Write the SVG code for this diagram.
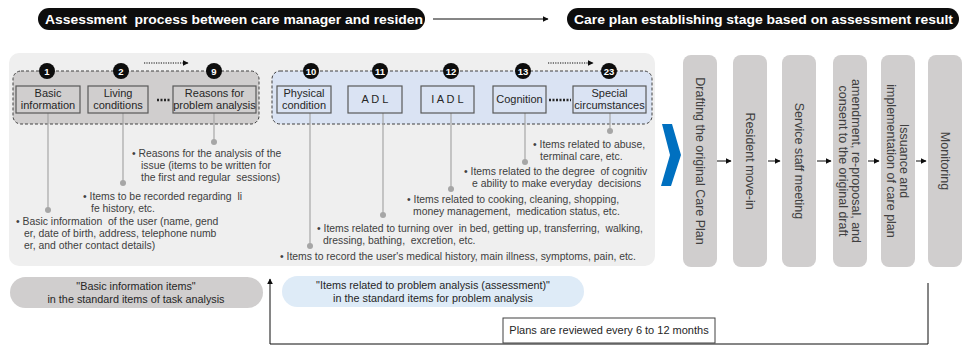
<svg xmlns="http://www.w3.org/2000/svg" width="963" height="347" viewBox="0 0 963 347">
  <style>
    text { font-family: "Liberation Sans", Arial, sans-serif; }
    .hdr { fill: #0d0d0d; }
    .hdr-t { fill: #ffffff; font-size: 13px; font-weight: bold; white-space: pre; }
    .panel { fill: #efefef; }
    .grp-g { fill: #d0cece; stroke: #404040; stroke-width: 1; stroke-dasharray: 3 2; }
    .grp-b { fill: #dae3f3; stroke: #404040; stroke-width: 1; stroke-dasharray: 3 2; }
    .box { fill: none; stroke: #595959; stroke-width: 1.2; }
    .box-t { font-size: 11px; fill: #262626; text-anchor: middle; }
    .num { fill: #0d0d0d; }
    .num-t { fill: #ffffff; font-size: 9.5px; font-weight: bold; text-anchor: middle; }
    .lead { stroke: #a6a6a6; stroke-width: 1.2; fill: none; }
    .dot { fill: #a6a6a6; }
    .desc { font-size: 10.4px; fill: #404040; white-space: pre; }
    .ellip { stroke: #262626; stroke-width: 2.5; stroke-dasharray: 2 1.5; }
    .dotted { stroke: #0d0d0d; stroke-width: 1.2; stroke-dasharray: 1.2 1.2; fill: none; }
    .col { fill: #d0cece; }
    .col-t { font-size: 12.5px; fill: #404040; text-anchor: middle; }
    .link { stroke: #0d0d0d; stroke-width: 1; fill: none; }
    .pill-g { fill: #d0cece; }
    .pill-b { fill: #deebf7; }
    .pill-t { font-size: 10.8px; fill: #262626; text-anchor: middle; }
    .note { fill: #ffffff; stroke: #404040; stroke-width: 1; }
    .note-t { font-size: 11px; fill: #262626; text-anchor: middle; }
  </style>
  <defs>
    <marker id="arr" viewBox="0 0 10 10" refX="9" refY="5" markerWidth="6" markerHeight="6" orient="auto" markerUnits="userSpaceOnUse">
      <path d="M0,0 L10,5 L0,10 z" fill="#0d0d0d"/>
    </marker>
  </defs>

  <!-- stage headers -->
  <g id="header-assessment">
    <rect class="hdr" x="38" y="8" width="387" height="22" rx="11"/>
    <text class="hdr-t" x="45" y="24" textLength="378" lengthAdjust="spacingAndGlyphs">Assessment  process between care manager and residen</text>
  </g>
  <g id="header-careplan">
    <rect class="hdr" x="567" y="8" width="392" height="22" rx="11"/>
    <text class="hdr-t" x="574" y="24" textLength="379" lengthAdjust="spacingAndGlyphs">Care plan establishing stage based on assessment result</text>
  </g>

  <!-- assessment panel -->
  <rect class="panel" x="9" y="53" width="646" height="213" rx="10"/>

  <g id="group-basic">
    <rect class="grp-g" x="13" y="71" width="246" height="53" rx="8"/>
  </g>
  <g id="group-problem">
    <rect class="grp-b" x="272" y="71" width="380" height="53" rx="8"/>
  </g>

  <g id="connectors">
    <!-- header flow -->
    <line class="link" x1="433" y1="19" x2="548" y2="19" marker-end="url(#arr)"/>
    <!-- sequence hints -->
    <line class="dotted" x1="144" y1="63" x2="188" y2="63" marker-end="url(#arr)"/>
    <line class="dotted" x1="548" y1="63" x2="593" y2="63" marker-end="url(#arr)"/>
    <!-- item leaders -->
    <line class="lead" x1="48" y1="113" x2="48" y2="210"/>
    <line class="lead" x1="123" y1="113" x2="123" y2="183"/>
    <line class="lead" x1="214" y1="113" x2="214" y2="142"/>
    <line class="lead" x1="310" y1="113" x2="310" y2="246"/>
    <line class="lead" x1="383" y1="113" x2="383" y2="215"/>
    <line class="lead" x1="451" y1="113" x2="451" y2="189"/>
    <line class="lead" x1="525" y1="113" x2="525" y2="162"/>
    <line class="lead" x1="610" y1="113" x2="610" y2="131"/>
    <circle class="dot" cx="48" cy="210" r="3"/>
    <circle class="dot" cx="123" cy="183" r="3"/>
    <circle class="dot" cx="214" cy="142" r="3"/>
    <circle class="dot" cx="310" cy="246" r="3"/>
    <circle class="dot" cx="383" cy="215" r="3"/>
    <circle class="dot" cx="451" cy="189" r="3"/>
    <circle class="dot" cx="525" cy="162" r="3"/>
    <circle class="dot" cx="610" cy="131" r="3"/>
    <!-- care plan steps -->
    <line class="link" x1="717" y1="161" x2="731" y2="161" marker-end="url(#arr)"/>
    <line class="link" x1="768" y1="161" x2="780" y2="161" marker-end="url(#arr)"/>
    <line class="link" x1="817" y1="161" x2="831" y2="161" marker-end="url(#arr)"/>
    <line class="link" x1="868" y1="161" x2="879" y2="161" marker-end="url(#arr)"/>
    <line class="link" x1="916" y1="161" x2="926" y2="161" marker-end="url(#arr)"/>
    <!-- review loop -->
    <path class="link" d="M928,283 V344 H270 V279" marker-end="url(#arr)"/>
  </g>

  <!-- basic information items -->
  <g id="item-1">
    <circle class="num" cx="47" cy="71" r="8"/>
    <text class="num-t" x="47" y="74.5">1</text>
    <rect class="box" x="16" y="86" width="64" height="27"/>
    <text class="box-t" x="48" y="97">Basic</text>
    <text class="box-t" x="48" y="109">information</text>
    <text class="desc" x="16" y="225">• Basic information  of the user (name, gend</text>
    <text class="desc" x="24" y="237">er, date of birth, address, telephone numb</text>
    <text class="desc" x="24" y="249">er, and other contact details)</text>
  </g>
  <g id="item-2">
    <circle class="num" cx="121" cy="71" r="8"/>
    <text class="num-t" x="121" y="74.5">2</text>
    <rect class="box" x="88" y="86" width="60" height="27"/>
    <text class="box-t" x="118" y="97">Living</text>
    <text class="box-t" x="118" y="109">conditions</text>
    <line class="ellip" x1="157" y1="100" x2="171" y2="100"/>
    <text class="desc" x="83" y="200">• Items to be recorded regarding  li</text>
    <text class="desc" x="91" y="212">fe history, etc.</text>
  </g>
  <g id="item-9">
    <circle class="num" cx="214" cy="71" r="8"/>
    <text class="num-t" x="214" y="74.5">9</text>
    <rect class="box" x="173" y="86" width="83" height="27"/>
    <text class="box-t" x="214.5" y="97">Reasons for</text>
    <text class="box-t" x="214.5" y="109">problem analysis</text>
    <text class="desc" x="132" y="157">• Reasons for the analysis of the</text>
    <text class="desc" x="141" y="169">issue (items to be written for</text>
    <text class="desc" x="141" y="181">the first and regular  sessions)</text>
  </g>

  <!-- problem analysis items -->
  <g id="item-10">
    <circle class="num" cx="311" cy="71" r="8"/>
    <text class="num-t" x="311" y="74.5">10</text>
    <rect class="box" x="277" y="86" width="54" height="27"/>
    <text class="box-t" x="304" y="97">Physical</text>
    <text class="box-t" x="304" y="109">condition</text>
    <text class="desc" x="280" y="260">• Items to record the user's medical history, main illness, symptoms, pain, etc.</text>
  </g>
  <g id="item-11">
    <circle class="num" cx="380" cy="71" r="8"/>
    <text class="num-t" x="380" y="74.5">11</text>
    <rect class="box" x="348" y="86" width="54" height="27"/>
    <text class="box-t" x="375" y="103">A D L</text>
    <text class="desc" x="317" y="232">• Items related to turning over  in bed, getting up, transferring,  walking,</text>
    <text class="desc" x="323" y="244">dressing, bathing,  excretion, etc.</text>
  </g>
  <g id="item-12">
    <circle class="num" cx="451" cy="71" r="8"/>
    <text class="num-t" x="451" y="74.5">12</text>
    <rect class="box" x="421" y="86" width="53" height="27"/>
    <text class="box-t" x="447.5" y="103">I A D L</text>
    <text class="desc" x="407" y="203">• Items related to cooking, cleaning, shopping,</text>
    <text class="desc" x="413" y="215">money management,  medication status, etc.</text>
  </g>
  <g id="item-13">
    <circle class="num" cx="523" cy="71" r="8"/>
    <text class="num-t" x="523" y="74.5">13</text>
    <rect class="box" x="493" y="86" width="53" height="27"/>
    <text class="box-t" x="519.5" y="103">Cognition</text>
    <line class="ellip" x1="549" y1="100" x2="571" y2="100"/>
    <text class="desc" x="464" y="175">• Items related to the degree  of cognitiv</text>
    <text class="desc" x="472" y="187">e ability to make everyday  decisions</text>
  </g>
  <g id="item-23">
    <circle class="num" cx="609" cy="71" r="8"/>
    <text class="num-t" x="609" y="74.5">23</text>
    <rect class="box" x="573" y="86" width="73" height="27"/>
    <text class="box-t" x="609.5" y="97">Special</text>
    <text class="box-t" x="609.5" y="109">circumstances</text>
    <text class="desc" x="533" y="148">• Items related to abuse,</text>
    <text class="desc" x="540" y="160">terminal care, etc.</text>
  </g>

  <!-- transition chevron -->
  <polygon id="chevron" points="662,124 672,124 681,155 671,186 661,186 670,155" fill="#0070c0"/>

  <!-- care plan steps -->
  <g id="step-draft">
    <rect class="col" x="683" y="55" width="34" height="212" rx="8"/>
    <text class="col-t" transform="translate(700,161) rotate(90)" y="4.5">Drafting the original Care Plan</text>
  </g>
  <g id="step-move-in">
    <rect class="col" x="733" y="55" width="34" height="212" rx="8"/>
    <text class="col-t" transform="translate(750,161) rotate(90)" y="4.5">Resident move-in</text>
  </g>
  <g id="step-meeting">
    <rect class="col" x="782" y="55" width="34" height="212" rx="8"/>
    <text class="col-t" transform="translate(799,161) rotate(90)" y="4.5">Service staff meeting</text>
  </g>
  <g id="step-consent">
    <rect class="col" x="833" y="55" width="34" height="212" rx="8"/>
    <text class="col-t" transform="translate(850,161) rotate(90)" y="-2">amendment, re-proposal, and</text>
    <text class="col-t" transform="translate(850,161) rotate(90)" y="11">consent to the original draft</text>
  </g>
  <g id="step-issuance">
    <rect class="col" x="881" y="55" width="34" height="212" rx="8"/>
    <text class="col-t" transform="translate(898,161) rotate(90)" y="-2">Issuance and</text>
    <text class="col-t" transform="translate(898,161) rotate(90)" y="11">implementation of care plan</text>
  </g>
  <g id="step-monitoring">
    <rect class="col" x="928" y="55" width="34" height="212" rx="8"/>
    <text class="col-t" transform="translate(945,161) rotate(90)" y="4.5">Monitoring</text>
  </g>

  <!-- item category labels -->
  <g id="label-basic">
    <rect class="pill-g" x="10" y="277" width="253" height="31" rx="15.5"/>
    <text class="pill-t" x="136" y="290">"Basic information items"</text>
    <text class="pill-t" x="136" y="303">in the standard items of task analysis</text>
  </g>
  <g id="label-problem">
    <rect class="pill-b" x="282" y="276" width="302" height="31" rx="15.5"/>
    <text class="pill-t" x="433" y="289">"Items related to problem analysis (assessment)"</text>
    <text class="pill-t" x="433" y="302">in the standard items for problem analysis</text>
  </g>

  <g id="review-note">
    <rect class="note" x="503" y="318" width="212" height="25"/>
    <text class="note-t" x="609" y="334">Plans are reviewed every 6 to 12 months</text>
  </g>
</svg>
